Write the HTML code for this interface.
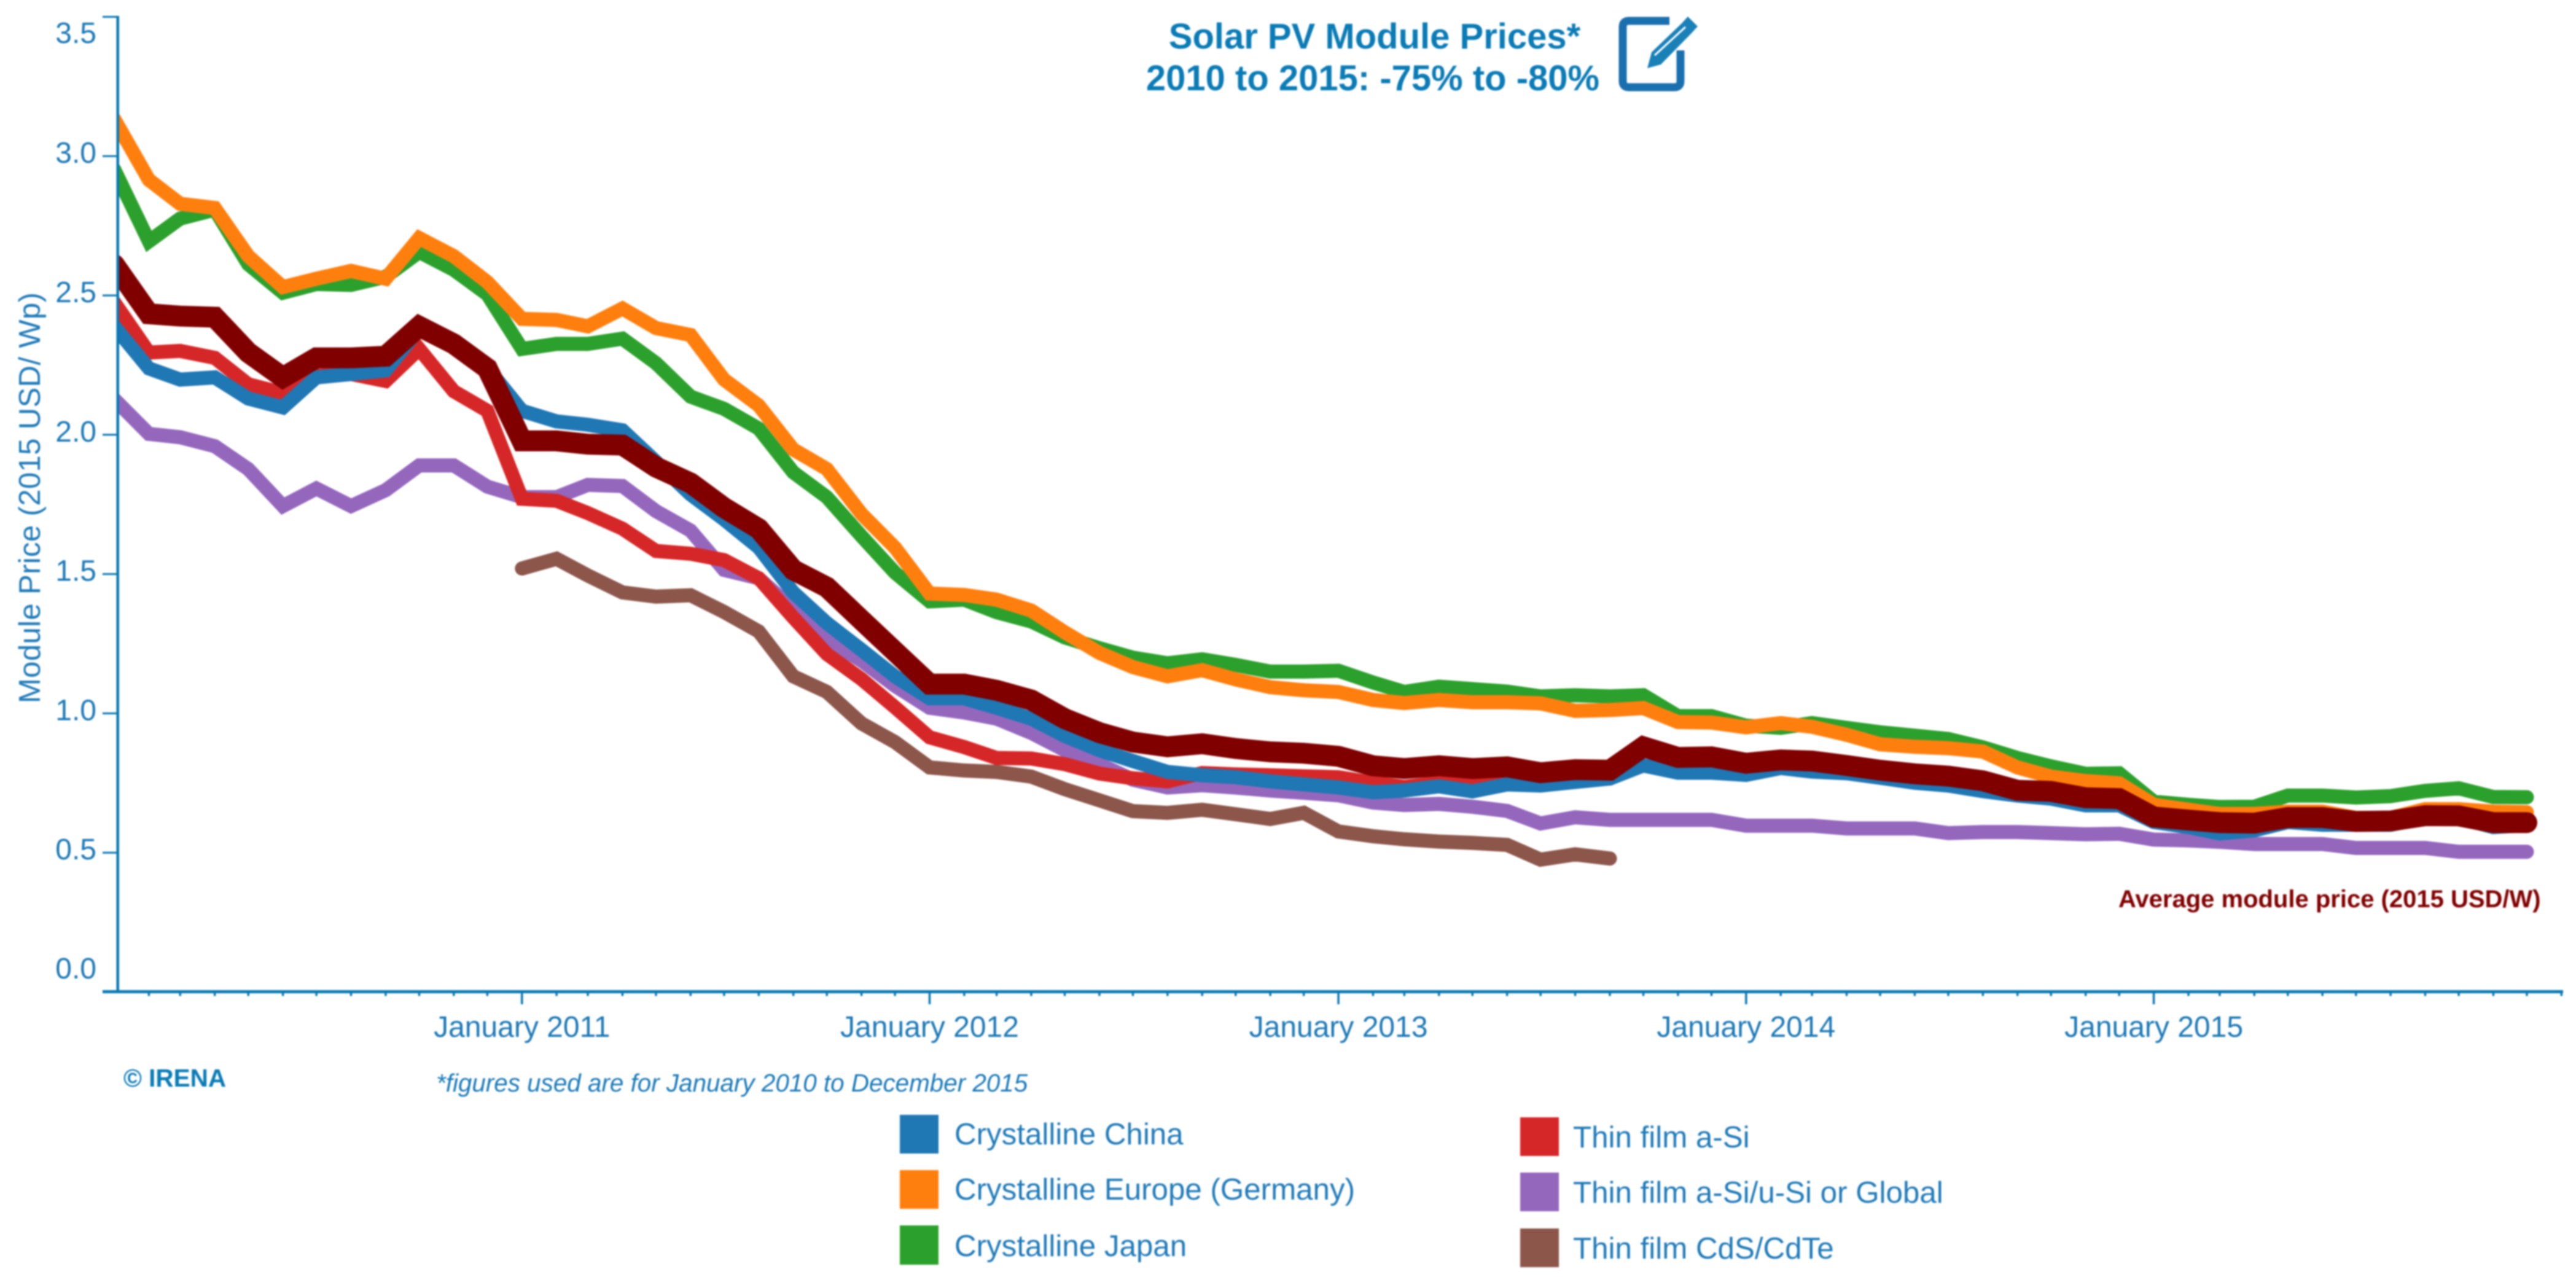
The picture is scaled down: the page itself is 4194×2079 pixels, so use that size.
<!DOCTYPE html>
<html lang="en">
<head>
<meta charset="utf-8">
<title>Solar PV Module Prices</title>
<style>
  html, body { margin: 0; padding: 0; background: #ffffff; }
  svg { display: block; font-family: "Liberation Sans", Arial, sans-serif; filter: blur(1.2px); }
</style>
</head>
<body>
<svg id="chart" xmlns="http://www.w3.org/2000/svg" width="4194" height="2079" viewBox="0 0 4194 2079">
  <rect x="0" y="0" width="4194" height="2079" fill="#ffffff"/>
  <defs>
    <clipPath id="plot-clip"><rect x="192" y="0" width="4002" height="1640"/></clipPath>
  </defs>

  <g id="series-layer" clip-path="url(#plot-clip)"></g>
  <g id="axis-layer"></g>

  <text transform="translate(65,1145) rotate(-90)" font-size="49" fill="#1f7ab8" textLength="669" lengthAdjust="spacing">Module Price (2015 USD/ Wp)</text>

  <g font-weight="bold" font-size="58" fill="#0a7bb5" text-anchor="middle">
    <text x="2238" y="79">Solar PV Module Prices*</text>
    <text x="2235" y="147">2010 to 2015: -75% to -80%</text>
  </g>

  <g>
    <path d="M2718,34 H2652 Q2642,34 2642,44 V132 Q2642,142 2652,142 H2726 Q2736,142 2736,132 V82" fill="none" stroke="#1a6fae" stroke-width="13"/>
    <polygon points="2682,111 2689,85 2738,38 2748,27 2764,43 2753,55 2704,105" fill="#1a80b8"/>
    <line x1="2694" y1="90" x2="2744" y2="44" stroke="#ffffff" stroke-width="3"/>
  </g>

  <text x="3449" y="1477" font-size="40" font-weight="bold" fill="#800000">Average module price (2015 USD/W)</text>
  <text x="201" y="1769" font-size="40.5" font-weight="bold" fill="#0a7bb5">© IRENA</text>
  <text x="710" y="1777" font-size="40.4" font-style="italic" fill="#1a7ab8">*figures used are for January 2010 to December 2015</text>

  <g font-size="49.3" fill="#1f7ab8">
    <g>
      <rect x="1465" y="1815" width="63" height="63" fill="#1f77b4"/>
      <text x="1554" y="1863">Crystalline China</text>
    </g>
    <g>
      <rect x="1465" y="1905" width="63" height="63" fill="#ff7f0e"/>
      <text x="1554" y="1953">Crystalline Europe (Germany)</text>
    </g>
    <g>
      <rect x="1465" y="1995" width="63" height="64" fill="#2ca02c"/>
      <text x="1554" y="2045">Crystalline Japan</text>
    </g>
    <g>
      <rect x="2475" y="1819" width="63" height="63" fill="#d62728"/>
      <text x="2561" y="1868">Thin film a-Si</text>
    </g>
    <g>
      <rect x="2475" y="1909" width="63" height="63" fill="#9467bd"/>
      <text x="2561" y="1958">Thin film a-Si/u-Si or Global</text>
    </g>
    <g>
      <rect x="2475" y="2000" width="63" height="63" fill="#8c564b"/>
      <text x="2561" y="2049">Thin film CdS/CdTe</text>
    </g>
  </g>
</svg>

<script>
// Chart data: monthly prices from January 2010, one row per year.
const yTickValues = [0, 0.5, 1, 1.5, 2, 2.5, 3, 3.5];
const xTickYears = [2011, 2012, 2013, 2014, 2015];
const xAxisYears = [2010, 2011, 2012, 2013, 2014, 2015];

const brownPrices = [
  null,null,null,null,null,null,null,null,null,null,null,null,
  1.520,1.555,1.495,1.434,1.419,1.424,1.364,1.294,1.133,1.077,.964,.897,
  .806,.795,.790,.773,.728,.688,.649,.643,.654,.638,.621,.643,
  .576,.559,.548,.540,.535,.528,.475,.494,.479
];
const purplePrices = [
  2.128,2.003,1.991,1.959,1.877,1.744,1.807,1.744,1.801,1.890,1.890,1.814,
  1.776,1.776,1.820,1.816,1.726,1.656,1.515,1.485,1.374,1.267,1.189,1.099,
  1.020,1.003,.981,.930,.868,.818,.762,.734,.742,.734,.723,.715,
  .706,.680,.671,.675,.665,.650,.605,.627,.618,.618,.618,.618,
  .597,.597,.597,.587,.587,.587,.570,.574,.574,.570,.566,.568,
  .547,.544,.539,.531,.531,.531,.517,.517,.517,.503,.503,.503
];
const redPrices = [
  2.475,2.295,2.301,2.276,2.181,2.149,2.212,2.218,2.193,2.308,2.156,2.086,
  1.770,1.763,1.719,1.663,1.583,1.573,1.550,1.485,1.344,1.213,1.123,1.022,
  .914,.879,.840,.838,.818,.784,.767,.756,.786,.781,.778,.774,
  .771,.751,.736,.751,.761,.766,.761,.766,.766
];
const greenPrices = [
  2.952,2.694,2.776,2.808,2.612,2.510,2.541,2.538,2.567,2.656,2.592,2.504,
  2.308,2.326,2.326,2.345,2.257,2.137,2.093,2.022,1.865,1.776,1.636,1.505,
  1.402,1.408,1.363,1.330,1.273,1.234,1.200,1.180,1.194,1.174,1.150,1.150,
  1.153,1.111,1.077,1.096,1.087,1.078,1.061,1.065,1.061,1.065,.990,.990,
  .956,.948,.965,.948,.932,.920,.908,.878,.840,.810,.783,.785,
  .683,.672,.664,.665,.705,.705,.698,.703,.722,.731,.700,.699
];
const bluePrices = [
  2.389,2.238,2.198,2.206,2.130,2.098,2.206,2.218,2.231,2.380,2.330,2.240,
  2.086,2.048,2.036,2.016,1.903,1.786,1.696,1.595,1.434,1.324,1.228,1.133,
  1.054,1.054,1.020,.981,.919,.868,.829,.790,.778,.771,.756,.745,
  .734,.717,.723,.738,.720,.745,.741,.754,.766,.813,.787,.787,
  .779,.804,.791,.785,.769,.751,.741,.721,.705,.694,.670,.670,
  .610,.592,.569,.580,.610,.600,.600,.600,.625,.625,.592,.599
];
const orangePrices = [
  3.133,2.915,2.829,2.814,2.641,2.530,2.560,2.588,2.560,2.706,2.641,2.548,
  2.416,2.412,2.389,2.453,2.383,2.358,2.198,2.105,1.947,1.877,1.716,1.595,
  1.430,1.425,1.408,1.369,1.291,1.217,1.166,1.133,1.155,1.122,1.094,1.083,
  1.077,1.048,1.037,1.048,1.040,1.040,1.036,1.009,1.012,1.019,.969,.967,
  .950,.965,.952,.923,.889,.880,.875,.863,.806,.773,.757,.749,
  .672,.654,.639,.639,.647,.647,.625,.625,.656,.656,.647,.645
];
const averagePrices = [
  2.611,2.434,2.426,2.422,2.295,2.206,2.276,2.276,2.282,2.389,2.326,2.238,
  1.978,1.978,1.966,1.963,1.884,1.827,1.738,1.663,1.515,1.453,1.335,1.222,
  1.105,1.105,1.083,1.048,.981,.931,.897,.880,.891,.874,.862,.857,
  .846,.812,.802,.812,.802,.808,.787,.798,.796,.880,.842,.844,
  .821,.833,.829,.813,.796,.783,.775,.758,.724,.720,.697,.694,
  .628,.617,.608,.606,.626,.626,.612,.614,.633,.632,.608,.608
];

const SVG_NS = 'http://www.w3.org/2000/svg';
const seriesLayer = document.getElementById('series-layer');
const axisLayer = document.getElementById('axis-layer');
const AXIS_COLOR = '#0a78b2';
const LABEL_COLOR = '#1b78b5';

function xOfDate(year, monthIndex) {
  const days = (Date.UTC(year, monthIndex, 1) - Date.UTC(2010, 0, 1)) / 86400000;
  return 186 + 1.8185 * days;
}
function xOfIndex(i) { return xOfDate(2010, i); }
function yOfValue(v) { return 1615 - 453.6 * v; }

function drawSeries(values, color, width, name) {
  let d = '';
  values.forEach(function (v, i) {
    if (v === null) return;
    d += (d === '' ? 'M' : 'L') + xOfIndex(i).toFixed(1) + ',' + yOfValue(v).toFixed(1);
  });
  const path = document.createElementNS(SVG_NS, 'path');
  path.setAttribute('d', d);
  path.setAttribute('fill', 'none');
  path.setAttribute('stroke', color);
  path.setAttribute('stroke-width', width);
  path.setAttribute('stroke-linejoin', 'miter');
  path.setAttribute('stroke-miterlimit', '6');
  path.setAttribute('stroke-linecap', 'round');
  
  
  seriesLayer.appendChild(path);
}

drawSeries(brownPrices, '#8c564b', 23, 'line-thin-film-cds-cdte');
drawSeries(purplePrices, '#9467bd', 23, 'line-thin-film-global');
drawSeries(redPrices, '#d62728', 23, 'line-thin-film-a-si');
drawSeries(greenPrices, '#2ca02c', 23, 'line-crystalline-japan');
drawSeries(bluePrices, '#1f77b4', 23, 'line-crystalline-china');
drawSeries(orangePrices, '#ff7f0e', 23, 'line-crystalline-europe');
drawSeries(averagePrices, '#800000', 34, 'line-average-module-price');

function addRect(x, y, w, h, name) {
  const r = document.createElementNS(SVG_NS, 'rect');
  r.setAttribute('x', x);
  r.setAttribute('y', y);
  r.setAttribute('width', w);
  r.setAttribute('height', h);
  r.setAttribute('fill', AXIS_COLOR);
  
  
  axisLayer.appendChild(r);
}

addRect(189.5, yOfValue(3.5) - 1.5, 4.5, yOfValue(0) - yOfValue(3.5) + 1.5, 'y-axis-line');
addRect(167, yOfValue(0) - 3, 4006, 5, 'x-axis-line');

yTickValues.forEach(function (v) {
  const y = yOfValue(v);
  if (v > 0) addRect(167, y - 1.5, 25, 3, 'y-tick');
  const t = document.createElementNS(SVG_NS, 'text');
  t.setAttribute('x', 157);
  t.setAttribute('y', Math.max(70, Math.min(1593, y + 11)));
  t.setAttribute('text-anchor', 'end');
  t.setAttribute('font-size', '48');
  t.setAttribute('fill', LABEL_COLOR);
  
  
  t.textContent = v.toFixed(1);
  axisLayer.appendChild(t);
});

xAxisYears.forEach(function (year) {
  for (let m = 0; m < 12; m++) {
    const tickMonth = m + 1;
    const x = xOfDate(year, tickMonth);
    const isMajor = tickMonth === 12 && year < 2015;
    addRect(x - 1.75, 1616, 3.5, isMajor ? 19 : 5.5, isMajor ? 'x-major-tick' : 'x-minor-tick');
  }
});

xTickYears.forEach(function (year) {
  const t = document.createElementNS(SVG_NS, 'text');
  t.setAttribute('x', xOfDate(year, 0));
  t.setAttribute('y', 1688);
  t.setAttribute('text-anchor', 'middle');
  t.setAttribute('font-size', '48');
  t.setAttribute('fill', LABEL_COLOR);
  
  
  t.textContent = 'January ' + year;
  axisLayer.appendChild(t);
});
</script>
</body>
</html>
